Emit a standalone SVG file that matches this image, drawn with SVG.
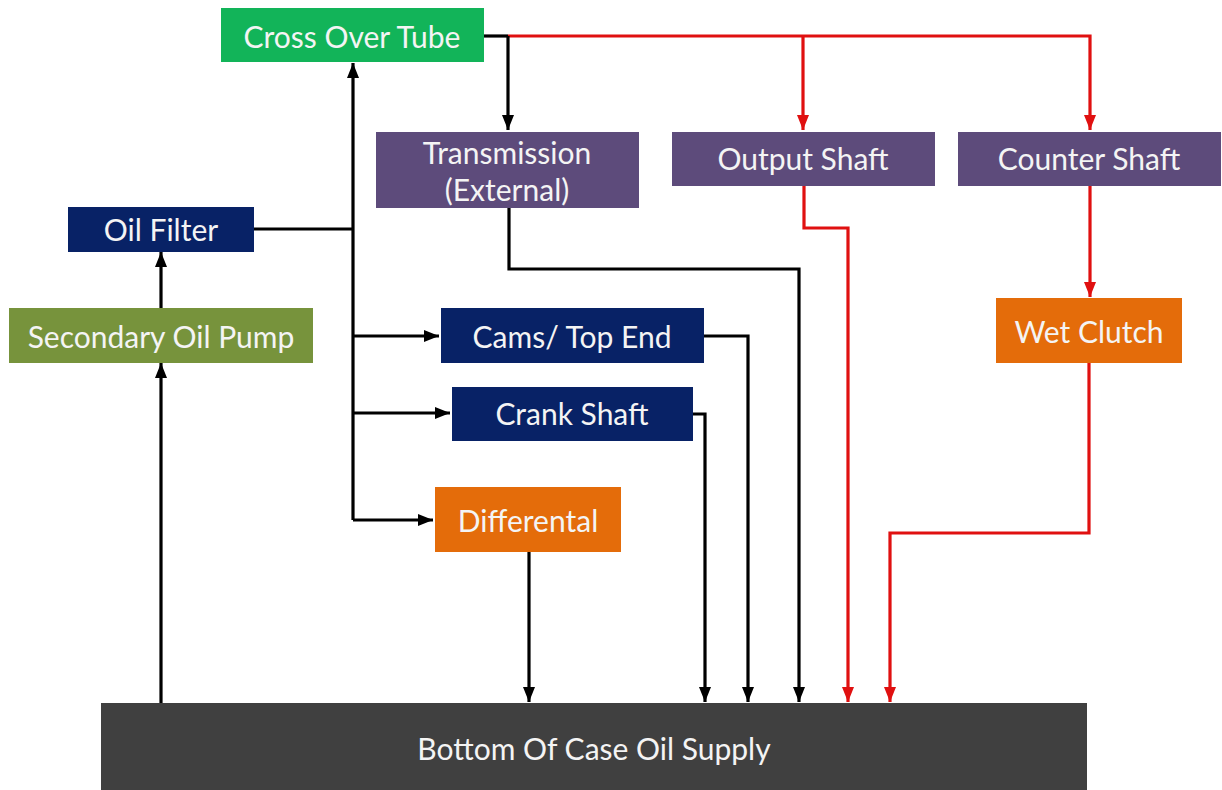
<svg xmlns="http://www.w3.org/2000/svg" width="1222" height="790" viewBox="0 0 1222 790">
  <style>
    .lbl { font-family: Lato, "Open Sans", "Liberation Sans", sans-serif; font-size: 30px; fill: #f4f4f4; text-anchor: middle; dominant-baseline: central; }
    .green { fill: #12b459; }
    .purple { fill: #5d4b7b; }
    .navy { fill: #082266; }
    .olive { fill: #77933c; }
    .orange { fill: #e46c0a; }
    .dark { fill: #404040; }
    .blk { fill: none; stroke: #000; stroke-width: 3.2; }
    .red { fill: none; stroke: #e01010; stroke-width: 3.2; }
  </style>
  <defs>
    <marker id="ahBlack" markerUnits="userSpaceOnUse" markerWidth="15" markerHeight="12" refX="15" refY="6" orient="auto">
      <path d="M0,0 L15,6 L0,12 Z" fill="#000"/>
    </marker>
    <marker id="ahRed" markerUnits="userSpaceOnUse" markerWidth="15" markerHeight="12" refX="15" refY="6" orient="auto">
      <path d="M0,0 L15,6 L0,12 Z" fill="#e01010"/>
    </marker>
  </defs>
  <rect width="1222" height="790" fill="#fff"/>

  <g id="connectors">
    <!-- feed from the cross over tube -->
    <path class="blk" d="M484,36 H508"/>
    <path class="red" d="M508,36 H1090 V130" marker-end="url(#ahRed)"/>
    <path class="red" d="M803,36 V130" marker-end="url(#ahRed)"/>
    <path class="blk" d="M508,36 V130" marker-end="url(#ahBlack)"/>
    <!-- main trunk -->
    <path class="blk" d="M254,229 H353"/>
    <path class="blk" d="M353,520 V63" marker-end="url(#ahBlack)"/>
    <path class="blk" d="M353,336 H439" marker-end="url(#ahBlack)"/>
    <path class="blk" d="M353,413 H450" marker-end="url(#ahBlack)"/>
    <path class="blk" d="M353,520 H433" marker-end="url(#ahBlack)"/>
    <!-- pump side -->
    <path class="blk" d="M161,308 V252" marker-end="url(#ahBlack)"/>
    <path class="blk" d="M161,703 V363" marker-end="url(#ahBlack)"/>
    <!-- returns to the case -->
    <path class="blk" d="M529,552 V702" marker-end="url(#ahBlack)"/>
    <path class="blk" d="M692,414 H705 V702" marker-end="url(#ahBlack)"/>
    <path class="blk" d="M703,336 H748 V702" marker-end="url(#ahBlack)"/>
    <path class="blk" d="M509,208 V269 H799 V702" marker-end="url(#ahBlack)"/>
    <path class="red" d="M804,185 V228 H848 V702" marker-end="url(#ahRed)"/>
    <path class="red" d="M1090,185 V297" marker-end="url(#ahRed)"/>
    <path class="red" d="M1089,363 V533 H890 V702" marker-end="url(#ahRed)"/>
  </g>

  <g id="cross-over-tube">
    <rect class="green" x="221" y="8" width="263" height="54"/>
    <text class="lbl" x="352" y="36">Cross Over Tube</text>
  </g>
  <g id="transmission">
    <rect class="purple" x="376" y="132" width="263" height="76"/>
    <text class="lbl" x="507" y="152">Transmission</text>
    <text class="lbl" x="507" y="189">(External)</text>
  </g>
  <g id="output-shaft">
    <rect class="purple" x="672" y="132" width="263" height="54"/>
    <text class="lbl" x="803" y="158">Output Shaft</text>
  </g>
  <g id="counter-shaft">
    <rect class="purple" x="958" y="132" width="263" height="54"/>
    <text class="lbl" x="1089" y="158">Counter Shaft</text>
  </g>
  <g id="oil-filter">
    <rect class="navy" x="68" y="207" width="186" height="45"/>
    <text class="lbl" x="161" y="229">Oil Filter</text>
  </g>
  <g id="secondary-oil-pump">
    <rect class="olive" x="9" y="308" width="304" height="55"/>
    <text class="lbl" x="161" y="336">Secondary Oil Pump</text>
  </g>
  <g id="cams-top-end">
    <rect class="navy" x="441" y="308" width="263" height="55"/>
    <text class="lbl" x="572" y="336">Cams/ Top End</text>
  </g>
  <g id="crank-shaft">
    <rect class="navy" x="452" y="387" width="241" height="54"/>
    <text class="lbl" x="572" y="413">Crank Shaft</text>
  </g>
  <g id="differental">
    <rect class="orange" x="435" y="487" width="186" height="65"/>
    <text class="lbl" x="528" y="520">Differental</text>
  </g>
  <g id="wet-clutch">
    <rect class="orange" x="996" y="298" width="186" height="65"/>
    <text class="lbl" x="1089" y="331">Wet Clutch</text>
  </g>
  <g id="bottom-of-case">
    <rect class="dark" x="101" y="703" width="986" height="87"/>
    <text class="lbl" x="594" y="748">Bottom Of Case Oil Supply</text>
  </g>
</svg>
